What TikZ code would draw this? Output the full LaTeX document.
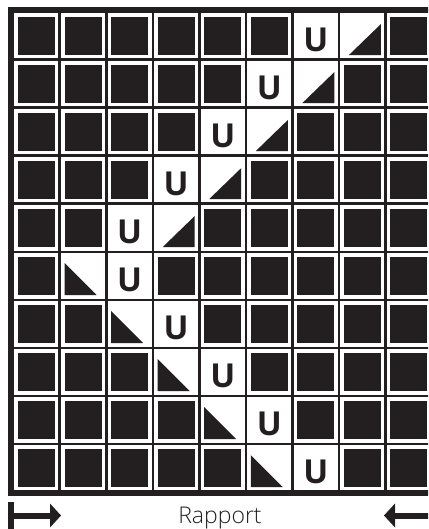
\documentclass[tikz,border=0pt]{standalone}
\usepackage{fontspec}
\setmainfont{Open Sans}
\newfontfamily\lightfont{Open Sans Light}
\usetikzlibrary{arrows.meta}
\definecolor{ink}{HTML}{231F20}

\begin{document}
\begin{tikzpicture}[x=1pt, y=-1pt,
  blacksq/.style={fill=ink},
  gridline/.style={draw=ink, line width=2.7pt},
  frameline/.style={draw=ink, line width=6pt},
  ulabel/.style={font=\fontsize{33}{33}\selectfont\bfseries, text=ink, inner sep=0pt},
  rapportarrow/.style={draw=ink, line width=6pt, {Bar[width=28pt]}-{Triangle[length=11pt,width=24pt,line width=0pt]}}]
\useasboundingbox (0,0) rectangle (428,529);
\clip (0,0) rectangle (428,529);
% black square in every cell
\foreach \r in {1,...,10}
  \foreach \c in {1,...,9}
    \fill[blacksq] ({18+46.56*(\c-1)}, {16.65+48*(\r-1)}) rectangle ++(37,38.4);
% grid and frame
\foreach \c in {1,...,8}
  \draw[gridline] ({13.22+46.56*\c},10) -- ++(0,482.5);
\foreach \r in {1,...,9}
  \draw[gridline] (11,{11.85+48*\r}) -- ++(423.5,0);
\draw[frameline] (11,10) rectangle (434.5,492.5);
% U cells
\foreach \r/\c in {1/7,2/6,3/5,4/4,5/3,6/3,7/4,8/5,9/6,10/7}{
  \fill[white] ({17+46.56*(\c-1)}, {15.65+48*(\r-1)}) rectangle ++(39,40.4);
  \node[ulabel] (u\r) at ({36.5+46.56*(\c-1)}, {39.85+48*(\r-1)}) {U};
}
% half cells, upper rows
\foreach \r/\c in {1/8,2/7,3/6,4/5,5/4}{
  \fill[white] ({17+46.56*(\c-1)}, {15.65+48*(\r-1)}) rectangle ++(39,40.4);
  \fill[blacksq] ({23+46.56*(\c-1)}, {55.05+48*(\r-1)}) -- ++(32,0) -- ++(0,-31) -- cycle;
}
% half cells, lower rows
\foreach \r/\c in {6/2,7/3,8/4,9/5,10/6}{
  \fill[white] ({17+46.56*(\c-1)}, {15.65+48*(\r-1)}) rectangle ++(39,40.4);
  \fill[blacksq] ({18+46.56*(\c-1)}, {55.05+48*(\r-1)}) -- ++(32,0) -- ++(-32,-32) -- cycle;
}
% repeat
\node[font=\lightfont\fontsize{23}{23}\selectfont, text=ink, anchor=base] (rapport) at (220,523) {Rapport};
\coordinate (leftbar) at (8,515.5);
\coordinate (lefttip) at (61,515.5);
\coordinate (rightbar) at (437.5,515.5);
\coordinate (righttip) at (384,515.5);
\draw[rapportarrow] (leftbar) -- (lefttip);
\draw[rapportarrow] (rightbar) -- (righttip);
\end{tikzpicture}
\end{document}
